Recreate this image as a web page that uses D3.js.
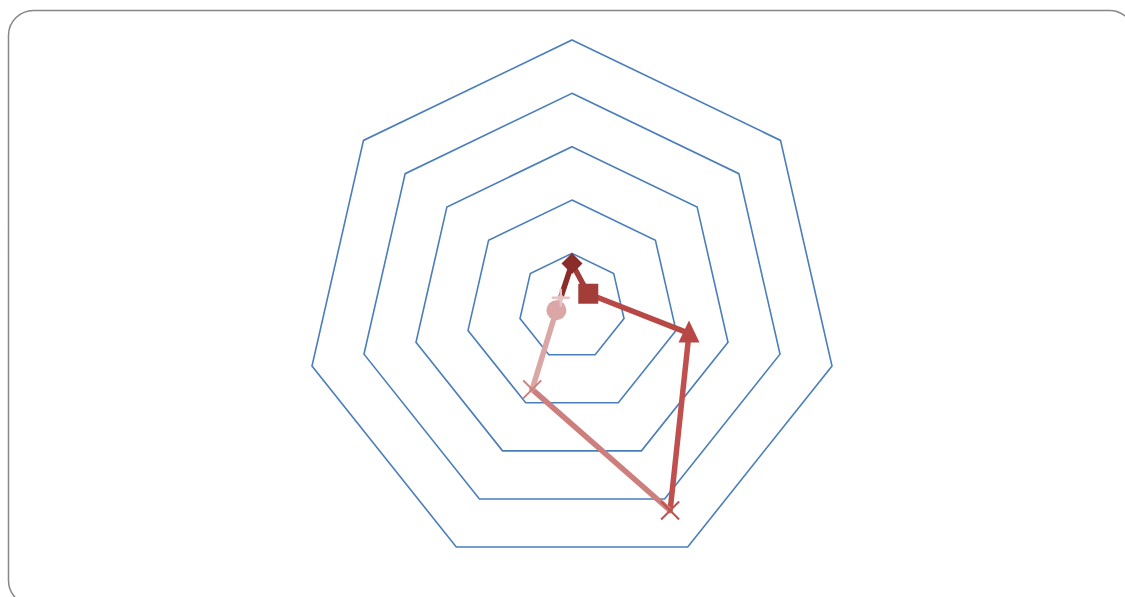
<!DOCTYPE html>
<html>
<head>
<meta charset="utf-8">
<script src="https://cdn.jsdelivr.net/npm/d3@7"></script>
<style>
  html, body { margin: 0; padding: 0; background: #fff; }
  svg { display: block; }
</style>
</head>
<body>
<svg id="chart" width="1125" height="597"></svg>
<script>
// Radar data: one value per axis, each point with its own colour and marker
const axes = ["A1", "A2", "A3", "A4", "A5", "A6", "A7"];
const values = [8.1, 3.9, 22.5, 42.4, 17.2, 3.0, 2.7];
const ringValues = [10, 20, 30, 40, 50];
const pointColors = ["#8a2c2a", "#a33d39", "#b84846", "#c0504d", "#cc7f7d", "#daa7a6", "#e8c3c3"];
const markerShapes = ["diamond", "square", "triangle", "x", "x", "circle", "plus"];

const svg = d3.select("#chart");
const cx = 572, cy = 306.7, R = 266.7;

// Chart frame
svg.append("rect")
  .attr("x", 8.5).attr("y", 10.5)
  .attr("width", 1126).attr("height", 595)
  .attr("rx", 25).attr("ry", 25)
  .attr("fill", "#fff")
  .attr("stroke", "#878787")
  .attr("stroke-width", 1.5);

const r = d3.scaleLinear().domain([0, 50]).range([0, R]);
const angle = d3.scaleLinear().domain([0, axes.length]).range([0, 2 * Math.PI]);

function pt(i, v) {
  const a = angle(i);
  return [cx + r(v) * Math.sin(a), cy - r(v) * Math.cos(a)];
}

// Grid rings
const g = svg.append("g");
ringValues.forEach(v => {
  const pts = axes.map((_, i) => pt(i, v));
  g.append("polygon")
    .attr("points", pts.map(p => p.join(",")).join(" "))
    .attr("fill", "none")
    .attr("stroke", "#4a7ebb")
    .attr("stroke-width", 1.6);
});

// Series line: each segment takes the colour of the point it ends on
const pts = values.map((v, i) => pt(i, v));
const segs = pts.map((p, i) => ({ from: pts[(i - 1 + pts.length) % pts.length], to: p, color: pointColors[i] }));
svg.append("g").selectAll("line")
  .data(segs)
  .join("line")
  .attr("x1", d => d.from[0]).attr("y1", d => d.from[1])
  .attr("x2", d => d.to[0]).attr("y2", d => d.to[1])
  .attr("stroke", d => d.color)
  .attr("stroke-width", 5.5)
  .attr("stroke-linecap", "round");

// Markers
const mg = svg.append("g");
pts.forEach((p, i) => {
  const c = pointColors[i];
  const [x, y] = p;
  switch (markerShapes[i]) {
    case "diamond":
      mg.append("path").attr("d", `M${x},${y - 10.5} L${x + 10.5},${y} L${x},${y + 10.5} L${x - 10.5},${y} Z`).attr("fill", c);
      break;
    case "square":
      mg.append("rect").attr("x", x - 10).attr("y", y - 10).attr("width", 20).attr("height", 20).attr("fill", c);
      break;
    case "triangle":
      mg.append("path").attr("d", `M${x},${y - 13} L${x + 10.5},${y + 9} L${x - 10.5},${y + 9} Z`).attr("fill", c);
      break;
    case "x":
      mg.append("path").attr("d", `M${x - 9},${y - 9} L${x + 9},${y + 9} M${x + 9},${y - 9} L${x - 9},${y + 9}`)
        .attr("stroke", c).attr("stroke-width", 2);
      break;
    case "circle":
      mg.append("circle").attr("cx", x).attr("cy", y).attr("r", 10).attr("fill", c);
      break;
    case "plus":
      mg.append("path").attr("d", `M${x - 9},${y} L${x + 9},${y} M${x},${y - 9} L${x},${y + 9}`)
        .attr("stroke", c).attr("stroke-width", 2.5);
      break;
  }
});
</script>
</body>
</html>
